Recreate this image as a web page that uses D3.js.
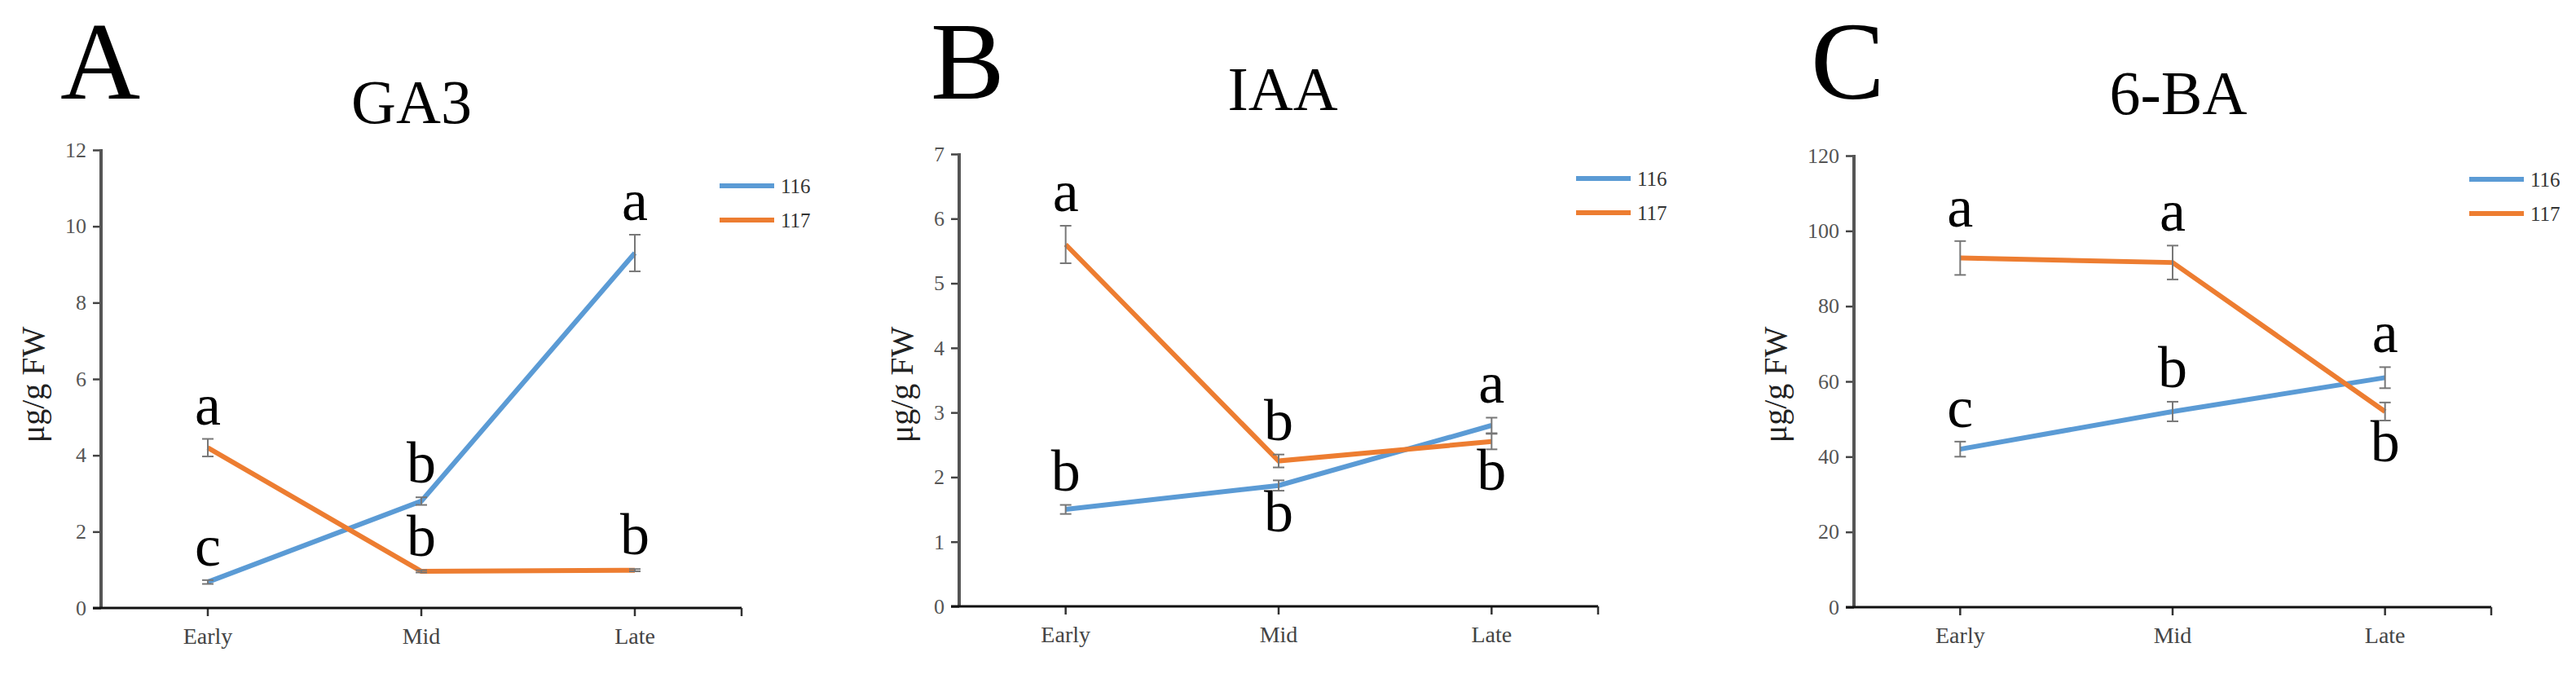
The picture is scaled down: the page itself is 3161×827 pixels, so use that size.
<!DOCTYPE html>
<html>
<head>
<meta charset="utf-8">
<script src="https://cdn.jsdelivr.net/npm/d3@7"></script>
<style>
  body { margin: 0; background: #fff; }
  text { font-family: "Liberation Serif", "Times New Roman", serif; }
</style>
</head>
<body>
<svg></svg>
<script>

var categories = ['Early', 'Mid', 'Late'];
var seriesNames = ['116', '117'];
var colors = ['#5B9BD5', '#ED7D31'];

var titles = ['GA3', 'IAA', '6-BA'];
var panelLetters = ['A', 'B', 'C'];

// GA3
var ga3_116 = [0.68, 2.8, 9.3];
var ga3_116_err = [0.05, 0.1, 0.48];
var ga3_117 = [4.2, 0.96, 0.99];
var ga3_117_err = [0.23, 0.03, 0.03];
var ga3_ticks = [0, 2, 4, 6, 8, 10, 12];

// IAA
var iaa_116 = [1.5, 1.87, 2.8];
var iaa_116_err = [0.07, 0.08, 0.12];
var iaa_117 = [5.6, 2.25, 2.55];
var iaa_117_err = [0.29, 0.1, 0.12];
var iaa_ticks = [0, 1, 2, 3, 4, 5, 6, 7];

// 6-BA
var ba_116 = [42, 52, 61];
var ba_116_err = [2.0, 2.6, 2.8];
var ba_117 = [92.8, 91.6, 52];
var ba_117_err = [4.5, 4.5, 2.4];
var ba_ticks = [0, 20, 40, 60, 80, 100, 120];

// significance letters and where they sit (above / below the point)
var ga3_116_sig = ['c', 'b', 'a'], ga3_116_pos = ['up', 'up', 'up'];
var ga3_117_sig = ['a', 'b', 'b'], ga3_117_pos = ['up', 'up', 'up'];
var iaa_116_sig = ['b', 'b', 'a'], iaa_116_pos = ['up', 'down', 'up'];
var iaa_117_sig = ['a', 'b', 'b'], iaa_117_pos = ['up', 'up', 'down'];
var ba_116_sig = ['c', 'b', 'a'], ba_116_pos = ['up', 'up', 'up'];
var ba_117_sig = ['a', 'a', 'b'], ba_117_pos = ['up', 'up', 'down'];

var panels = [
   { ticks: ga3_ticks, vals: [ga3_116, ga3_117], errs: [ga3_116_err, ga3_117_err],
     sig: [ga3_116_sig, ga3_117_sig], pos: [ga3_116_pos, ga3_117_pos],
     x0: 124, x1: 910, y0: 746, y1: 184, titleX: 505, titleY: 151, legendY: 228, letterX: 74 },
   { ticks: iaa_ticks, vals: [iaa_116, iaa_117], errs: [iaa_116_err, iaa_117_err],
     sig: [iaa_116_sig, iaa_117_sig], pos: [iaa_116_pos, iaa_117_pos],
     x0: 1177, x1: 1961, y0: 744, y1: 189, titleX: 1574, titleY: 135, legendY: 219, letterX: 1142 },
   { ticks: ba_ticks, vals: [ba_116, ba_117], errs: [ba_116_err, ba_117_err],
     sig: [ba_116_sig, ba_117_sig], pos: [ba_116_pos, ba_117_pos],
     x0: 2275, x1: 3057, y0: 745, y1: 191, titleX: 2673, titleY: 140, legendY: 220, letterX: 2222 }
];

var svg = d3.select('svg')
   .attr('width', 3161)
   .attr('height', 827);

panels.forEach(function (p, i) {
   var g = svg.append('g');

   var x = d3.scaleBand()
      .domain(categories)
      .range([p.x0, p.x1]);

   var y = d3.scaleLinear()
      .domain([0, d3.max(p.ticks)])
      .range([p.y0, p.y1]);

   var cx = function (c) { return x(c) + x.bandwidth() / 2; };

   // panel letter + title
   g.append('text')
      .attr('x', p.letterX)
      .attr('y', 121)
      .attr('font-size', 136)
      .attr('fill', '#000')
      .text(panelLetters[i]);

   g.append('text')
      .attr('x', p.titleX)
      .attr('y', p.titleY)
      .attr('text-anchor', 'middle')
      .attr('font-size', 76)
      .attr('fill', '#000')
      .text(titles[i]);

   // y axis
   var yAxis = g.append('g')
      .attr('transform', 'translate(' + p.x0 + ',0)')
      .call(d3.axisLeft(y).tickValues(p.ticks).tickFormat(d3.format('d'))
         .tickSize(10).tickPadding(8).tickSizeOuter(0));
   yAxis.select('.domain').remove();
   yAxis.selectAll('.tick line').attr('stroke', '#444').attr('stroke-width', 2.5);
   yAxis.selectAll('.tick text')
      .attr('font-size', 26)
      .attr('fill', '#555')
      .style('font-family', '"Liberation Serif", serif');

   g.append('line')
      .attr('x1', p.x0).attr('x2', p.x0)
      .attr('y1', y(d3.max(p.ticks)) - 1).attr('y2', p.y0)
      .attr('stroke', '#555').attr('stroke-width', 4);

   // x axis
   var xAxis = g.append('g')
      .attr('transform', 'translate(0,' + p.y0 + ')')
      .call(d3.axisBottom(x).tickSize(10).tickPadding(14).tickSizeOuter(0));
   xAxis.select('.domain').remove();
   xAxis.selectAll('.tick line').attr('stroke', '#333').attr('stroke-width', 2.5);
   xAxis.selectAll('.tick text')
      .attr('font-size', 28)
      .attr('fill', '#444')
      .style('font-family', '"Liberation Serif", serif');

   g.append('line')
      .attr('x1', p.x0 - 10).attr('x2', p.x1)
      .attr('y1', p.y0).attr('y2', p.y0)
      .attr('stroke', '#111').attr('stroke-width', 3);
   g.append('line')
      .attr('x1', p.x1).attr('x2', p.x1)
      .attr('y1', p.y0).attr('y2', p.y0 + 10)
      .attr('stroke', '#333').attr('stroke-width', 2.5);

   // y axis title
   var maxW = d3.max(p.ticks, function (t) { return String(t).length; }) * 13;
   g.append('text')
      .attr('transform', 'translate(' + (p.x0 - maxW - 44) + ',472) rotate(-90)')
      .attr('text-anchor', 'middle')
      .attr('font-size', 40)
      .attr('fill', '#222')
      .text('μg/g FW');

   var line = d3.line()
      .x(function (d, j) { return cx(categories[j]); })
      .y(function (d) { return y(d); });

   // lines
   p.vals.forEach(function (vals, s) {
      g.append('path')
         .datum(vals)
         .attr('fill', 'none')
         .attr('stroke', colors[s])
         .attr('stroke-width', 6)
         .attr('d', line);
   });

   // error bars
   p.vals.forEach(function (vals, s) {
      var eg = g.append('g');
      vals.forEach(function (v, j) {
         var e = p.errs[s][j];
         var xx = cx(categories[j]);
         eg.append('line')
            .attr('x1', xx).attr('x2', xx)
            .attr('y1', y(v - e)).attr('y2', y(v + e))
            .attr('stroke', '#777').attr('stroke-width', 2);
         [v - e, v + e].forEach(function (yy) {
            eg.append('line')
               .attr('x1', xx - 7).attr('x2', xx + 7)
               .attr('y1', y(yy)).attr('y2', y(yy))
               .attr('stroke', '#777').attr('stroke-width', 2);
         });
      });
   });

   // significance letters
   p.vals.forEach(function (vals, s) {
      vals.forEach(function (v, j) {
         var e = p.errs[s][j];
         var up = p.pos[s][j] === 'up';
         g.append('text')
            .attr('x', cx(categories[j]))
            .attr('y', up ? y(v + e) - 18 : y(v - e) + 50)
            .attr('text-anchor', 'middle')
            .attr('font-size', 72)
            .attr('fill', '#000')
            .text(p.sig[s][j]);
      });
   });

   // legend
   var legend = g.append('g');
   seriesNames.forEach(function (name, s) {
      var ly = p.legendY + s * 42;
      legend.append('line')
         .attr('x1', p.x1 - 27).attr('x2', p.x1 + 40)
         .attr('y1', ly).attr('y2', ly)
         .attr('stroke', colors[s]).attr('stroke-width', 6);
      legend.append('text')
         .attr('x', p.x1 + 48)
         .attr('y', ly)
         .attr('dy', '0.35em')
         .attr('font-size', 25)
         .attr('fill', '#333')
         .text(name);
   });
});
</script>
</body>
</html>
